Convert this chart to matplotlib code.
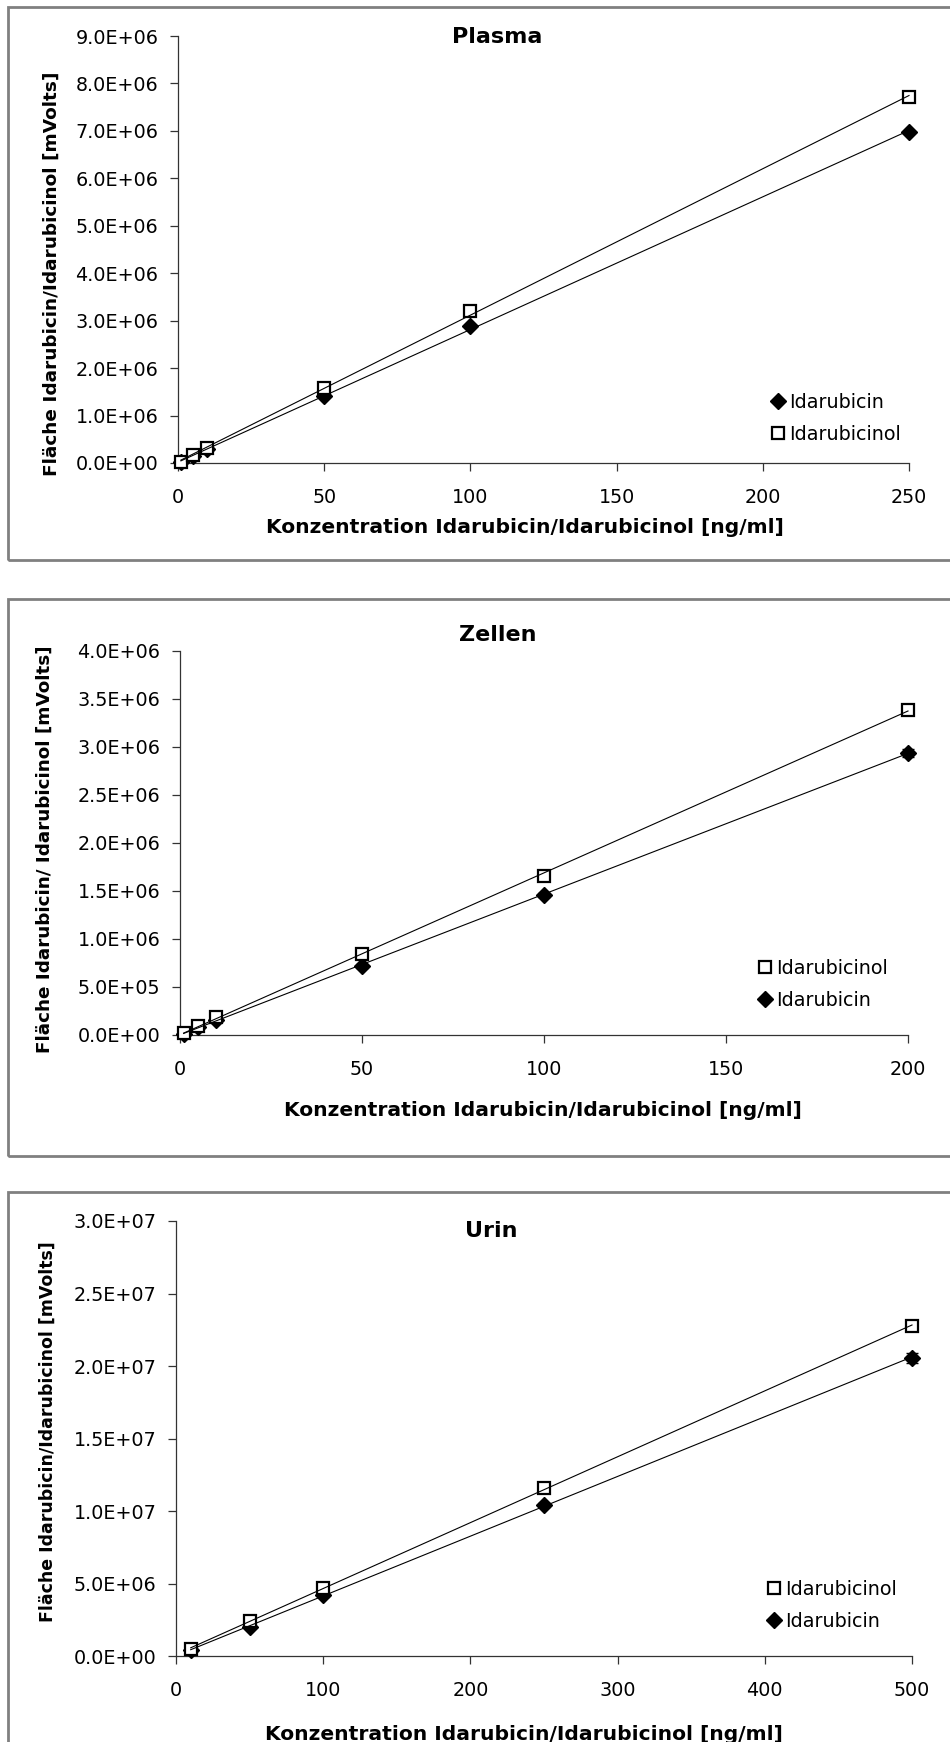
"""
Calibration curves Idarubicin / Idarubicinol in plasma, cells and urine.
"""
import numpy as np
import matplotlib.pyplot as plt
from matplotlib.patches import Rectangle
from matplotlib.ticker import FuncFormatter

W, H = 950, 1742

# ── Data ──────────────────────────────────────────────────────────────────────
plasma_conc = [1, 5, 10, 50, 100, 250]
plasma_ida = [0.028e6, 0.14e6, 0.29e6, 1.41e6, 2.89e6, 6.98e6]
plasma_idol = [0.031e6, 0.17e6, 0.32e6, 1.59e6, 3.20e6, 7.71e6]

zellen_conc = [1, 5, 10, 50, 100, 200]
zellen_ida = [0.015e6, 0.08e6, 0.16e6, 0.72e6, 1.46e6, 2.94e6]
zellen_ida_err = [0.005e6, 0.01e6, 0.01e6, 0.02e6, 0.02e6, 0.04e6]
zellen_idol = [0.018e6, 0.09e6, 0.19e6, 0.84e6, 1.66e6, 3.39e6]

urin_conc = [10, 50, 100, 250, 500]
urin_ida = [0.42e6, 2.00e6, 4.19e6, 10.43e6, 20.57e6]
urin_ida_err = [0.05e6, 0.1e6, 0.1e6, 0.15e6, 0.35e6]
urin_idol = [0.48e6, 2.38e6, 4.68e6, 11.60e6, 22.76e6]

# ── Layout in pixels (top-origin) ─────────────────────────────────────────────
PANELS = [
    dict(name="Plasma", conc=plasma_conc, ida=plasma_ida, ida_err=None, idol=plasma_idol,
         box=(178, 909, 36, 463), xmax=250, xstep=50, ymax=9e6, ystep=1e6,
         title_xy=(497, 37), xlabel_xy=(525, 527),
         ylabel="Fläche Idarubicin/Idarubicinol [mVolts]", ylabel_xy=(52, 274), ylabel_fs=13.3,
         legend_order=("ida", "idol"), legend_xy=(772, 393),
         frame=(8, 7, 960, 560)),
    dict(name="Zellen", conc=zellen_conc, ida=zellen_ida, ida_err=zellen_ida_err, idol=zellen_idol,
         box=(180, 908, 651, 1035), xmax=200, xstep=50, ymax=4e6, ystep=0.5e6,
         title_xy=(498, 635), xlabel_xy=(543, 1111),
         ylabel="Fläche Idarubicin/ Idarubicinol [mVolts]", ylabel_xy=(45, 849), ylabel_fs=13.2,
         legend_order=("idol", "ida"), legend_xy=(759, 959),
         frame=(8, 599, 960, 1156)),
    dict(name="Urin", conc=urin_conc, ida=urin_ida, ida_err=urin_ida_err, idol=urin_idol,
         box=(176, 912, 1221, 1656), xmax=500, xstep=100, ymax=3e7, ystep=5e6,
         title_xy=(491, 1231), xlabel_xy=(524, 1734),
         ylabel="Fläche Idarubicin/Idarubicinol [mVolts]", ylabel_xy=(48, 1432), ylabel_fs=12.5,
         legend_order=("idol", "ida"), legend_xy=(768, 1580),
         frame=(8, 1192, 960, 1760)),
]

FRAME_COLOR = "#808080"
TICK_FS = 13.8
LABEL_FS = 14.6
TITLE_FS = 16

plt.rcParams["font.family"] = ["DejaVu Sans"]


def fx(px):
    return px / W


def fy(py):
    return 1 - py / H


def sci_fmt(v, pos):
    return f"{v:.1E}"


fig = plt.figure(figsize=(W / 100, H / 100), dpi=100)

for p in PANELS:
    # chart-area border
    x0, y0, x1, y1 = p["frame"]
    fig.patches.append(Rectangle((fx(x0), fy(y1)), fx(x1 - x0), (y1 - y0) / H,
                                 transform=fig.transFigure, fill=False,
                                 edgecolor=FRAME_COLOR, linewidth=2.0))

    left, right, top, bottom = p["box"]
    ax = fig.add_axes([fx(left), fy(bottom), fx(right - left), (bottom - top) / H])
    ax.patch.set_alpha(0)

    conc = np.array(p["conc"], dtype=float)
    if p["ida_err"] is not None:
        ax.errorbar(conc, p["ida"], yerr=p["ida_err"], fmt="none", ecolor="black",
                    elinewidth=1.0, capsize=4, zorder=2)
    handles = {}
    handles["ida"], = ax.plot(conc, p["ida"], "D", color="black", ms=8.5, ls="none",
                              label="Idarubicin", zorder=3)
    handles["idol"], = ax.plot(conc, p["idol"], "s", ms=9, mfc="white", mec="black",
                               mew=1.6, ls="none", label="Idarubicinol", zorder=3)

    # linear trend lines
    xs = np.array([conc.min(), conc.max()])
    for key in ("idol", "ida"):
        k, d = np.polyfit(conc, p[key], 1)
        ax.plot(xs, k * xs + d, color="black", lw=0.8, zorder=4)

    ax.set_xlim(0, p["xmax"])
    ax.set_ylim(0, p["ymax"])
    ax.set_xticks(np.arange(0, p["xmax"] + 1, p["xstep"]))
    ax.set_yticks(np.arange(0, p["ymax"] + 1, p["ystep"]))
    ax.yaxis.set_major_formatter(FuncFormatter(sci_fmt))
    for s in ("top", "right"):
        ax.spines[s].set_visible(False)
    for s in ("left", "bottom"):
        ax.spines[s].set_linewidth(0.9)
        ax.spines[s].set_color("#333333")
    ax.tick_params(axis="y", direction="out", length=6, width=0.9, pad=8,
                   labelsize=TICK_FS, color="#333333")
    ax.tick_params(axis="x", direction="out", length=6, width=0.9, pad=12,
                   labelsize=TICK_FS, color="#333333")
    for art in ax.lines + ax.collections:
        art.set_clip_on(False)

    ax.legend([handles[k] for k in p["legend_order"]],
              [handles[k].get_label() for k in p["legend_order"]],
              loc="upper left", bbox_to_anchor=(fx(p["legend_xy"][0]), fy(p["legend_xy"][1])),
              bbox_transform=fig.transFigure, frameon=False, fontsize=TICK_FS,
              handlelength=0.6, handletextpad=0.3, labelspacing=0.66,
              borderpad=0, borderaxespad=0, markerscale=0.95)

    fig.text(fx(p["title_xy"][0]), fy(p["title_xy"][1]), p["name"], ha="center", va="center",
             fontsize=TITLE_FS, fontweight="bold")
    fig.text(fx(p["xlabel_xy"][0]), fy(p["xlabel_xy"][1]),
             "Konzentration Idarubicin/Idarubicinol [ng/ml]", ha="center", va="center",
             fontsize=LABEL_FS, fontweight="bold")
    fig.text(fx(p["ylabel_xy"][0]), fy(p["ylabel_xy"][1]), p["ylabel"], ha="center", va="center",
             rotation=90, fontsize=p["ylabel_fs"], fontweight="bold")

fig.savefig("out.png", dpi=100)
